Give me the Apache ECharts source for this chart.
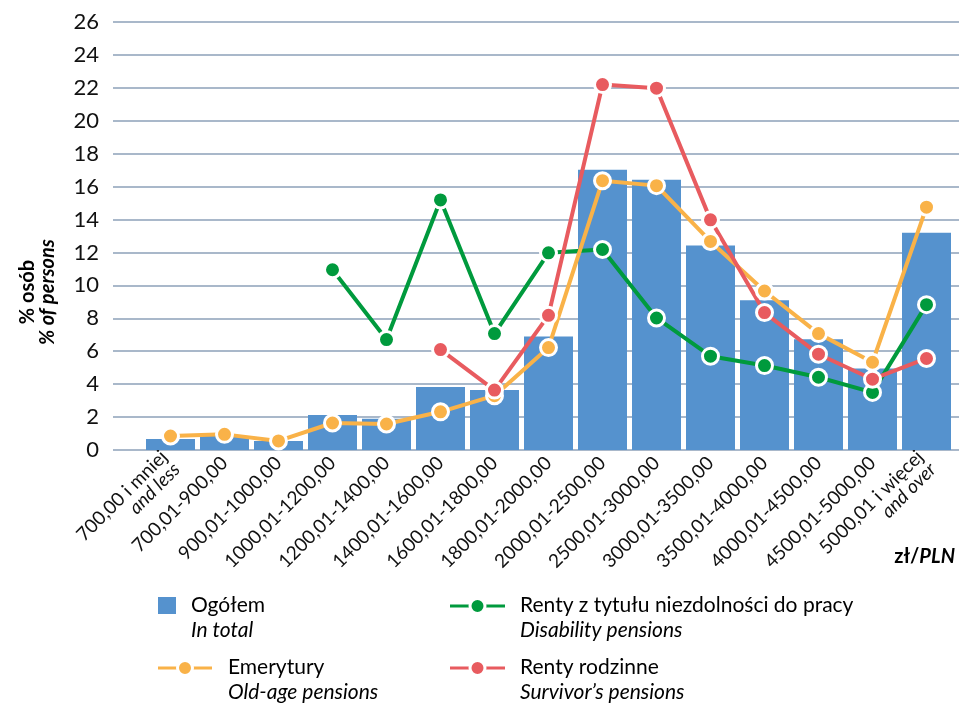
<!DOCTYPE html>
<html>
<head>
<meta charset="utf-8">
<script src="https://cdn.jsdelivr.net/npm/echarts@6/dist/echarts.min.js"></script>
<style>
html,body{margin:0;padding:0;background:#fff;}
#chart{width:965px;height:707px;}
</style>
</head>
<body>
<div id="chart"></div>
<script>
var catMain = ['700,00 i mniej', '700,01-900,00', '900,01-1000,00', '1000,01-1200,00', '1200,01-1400,00', '1400,01-1600,00', '1600,01-1800,00', '1800,01-2000,00', '2000,01-2500,00', '2500,01-3000,00', '3000,01-3500,00', '3500,01-4000,00', '4000,01-4500,00', '4500,01-5000,00', '5000,01 i więcej'];
var catSub = ['and less', '', '', '', '', '', '', '', '', '', '', '', '', '', 'and over'];

var total      = [0.67, 0.85, 0.55, 2.12, 1.9, 3.82, 3.64, 6.9, 17.03, 16.42, 12.42, 9.09, 6.73, 4.95, 13.2];
var oldAge     = [0.85, 0.95, 0.55, 1.64, 1.58, 2.32, 3.3, 6.22, 16.36, 16.06, 12.67, 9.66, 7.07, 5.33, 14.75];
var disability = [null, null, null, 10.95, 6.71, 15.19, 7.07, 11.98, 12.18, 8.02, 5.7, 5.13, 4.42, 3.5, 8.83];
var survivor   = [null, null, null, null, null, 6.1, 3.64, 8.18, 22.2, 21.98, 13.98, 8.35, 5.82, 4.3, 5.56];

var yTicks = {min: 0, max: 26, interval: 2};

var C_BLUE = '#5592ce', C_GREEN = '#009a3d', C_ORANGE = '#f9b248', C_RED = '#e85b5f';
var FONT = 'Lato';
var LEG_FS = 21;
var XL_FS = 19;

function dash(a){ return a.map(function(v){ return v == null ? '-' : v; }); }

var categories = catMain.map(function(m, i){ return catSub[i] ? m + '\n' + catSub[i] : m; });

function lineSeries(name, data, color){
  return {name: name, type: 'line', xAxisIndex: 1, yAxisIndex: 1, data: dash(data),
    symbol: 'none', connectNulls: false, z: 3,
    lineStyle: {color: color, width: 4}, itemStyle: {color: color}, animation: false};
}
function markerSeries(name, data, color, z){
  return {name: name + ' ', type: 'scatter', xAxisIndex: 1, yAxisIndex: 1, data: dash(data),
    symbol: 'circle', symbolSize: 16, z: z,
    itemStyle: {color: color, borderColor: '#ffffff', borderWidth: 3, opacity: 1}, animation: false};
}
function legendText(x, y, a, b){
  return {type: 'text', x: x, y: y,
    style: {text: '{a|' + a + '}\n{b|' + b + '}', verticalAlign: 'top',
      rich: {a: {fontFamily: FONT, fontSize: LEG_FS, color: '#111', lineHeight: 25},
             b: {fontFamily: FONT, fontSize: LEG_FS, fontStyle: 'italic', color: '#111', lineHeight: 25}}}};
}
function legendLine(x1, x2, y, color){
  return [
    {type: 'line', shape: {x1: x1, y1: y, x2: x2, y2: y}, style: {stroke: color, lineWidth: 3}},
    {type: 'circle', shape: {cx: (x1 + x2) / 2, cy: y, r: 7.5}, style: {fill: color, stroke: '#ffffff', lineWidth: 3}}
  ];
}

var chart = echarts.init(document.getElementById('chart'), null, {renderer: 'canvas'});
chart.setOption({
  backgroundColor: '#ffffff',
  animation: false,
  textStyle: {fontFamily: FONT},
  grid: [
    {left: 113, right: 6, top: 22, bottom: 257},
    {left: 143.5, right: 11.5, top: 22, bottom: 257}
  ],
  xAxis: [
    {type: 'value', gridIndex: 0, show: false, min: 0, max: 1},
    {type: 'category', gridIndex: 1, data: categories, boundaryGap: true,
     axisLine: {show: false}, axisTick: {show: false},
     axisLabel: {interval: 0, rotate: 45, margin: 10, fontFamily: FONT, fontSize: XL_FS, color: '#111',
       formatter: function(v){
         var p = v.split('\n');
         if (p.length > 1) return '{m|' + p[0] + '}\n{s|' + p[1] + '}';
         return '{m|' + p[0] + '}';
       },
       rich: {
         m: {fontFamily: FONT, fontSize: XL_FS, color: '#111', lineHeight: 18},
         s: {fontFamily: FONT, fontSize: XL_FS, fontStyle: 'italic', color: '#111', lineHeight: 18}
       }}
    }
  ],
  yAxis: [
    {type: 'value', gridIndex: 0, min: yTicks.min, max: yTicks.max, interval: yTicks.interval,
     axisLine: {show: false}, axisTick: {show: false},
     axisLabel: {fontFamily: FONT, fontSize: 22, color: '#111', margin: 14},
     splitLine: {lineStyle: {color: '#a9b8ca', width: 2}}},
    {type: 'value', gridIndex: 1, min: yTicks.min, max: yTicks.max, interval: yTicks.interval, show: false,
     splitLine: {show: false}}
  ],
  series: [
    {name: 'Ogółem', type: 'bar', xAxisIndex: 1, yAxisIndex: 1, data: total, barWidth: 49,
     itemStyle: {color: C_BLUE}, z: 2, animation: false},
    lineSeries('Renty z tytułu niezdolności do pracy', disability, C_GREEN),
    lineSeries('Emerytury', oldAge, C_ORANGE),
    lineSeries('Renty rodzinne', survivor, C_RED),
    markerSeries('Renty z tytułu niezdolności do pracy', disability, C_GREEN, 4),
    markerSeries('Emerytury', oldAge, C_ORANGE, 5),
    markerSeries('Renty rodzinne', survivor, C_RED, 6)
  ],
  graphic: [].concat(
    [{type: 'text', x: 38, y: 292, rotation: Math.PI / 2,
      style: {text: '{a|% osób}\n{b|% of persons}', align: 'center', verticalAlign: 'middle',
        rich: {a: {fontFamily: FONT, fontSize: 20, fontWeight: 'bold', color: '#111', lineHeight: 20, align: 'center'},
               b: {fontFamily: FONT, fontSize: 20, fontWeight: 'bold', fontStyle: 'italic', color: '#111', lineHeight: 20, align: 'center'}}}},
     {type: 'text', x: 955, y: 557,
      style: {text: '{a|zł/}{b|PLN}', align: 'right', verticalAlign: 'middle',
        rich: {a: {fontFamily: FONT, fontSize: 20, fontWeight: 'bold', color: '#111'},
               b: {fontFamily: FONT, fontSize: 20, fontWeight: 'bold', fontStyle: 'italic', color: '#111'}}}},
     {type: 'rect', shape: {x: 158, y: 597, width: 18, height: 17}, style: {fill: C_BLUE}},
     legendText(191, 593, 'Ogółem', 'In total'),
     legendText(520, 593, 'Renty z tytułu niezdolności do pracy', 'Disability pensions'),
     legendText(228, 655, 'Emerytury', 'Old-age pensions'),
     legendText(520, 655, 'Renty rodzinne', 'Survivor’s pensions')],
    legendLine(450, 505, 606, C_GREEN),
    legendLine(158, 212, 668, C_ORANGE),
    legendLine(450, 505, 668, C_RED)
  )
});
</script>
</body>
</html>
